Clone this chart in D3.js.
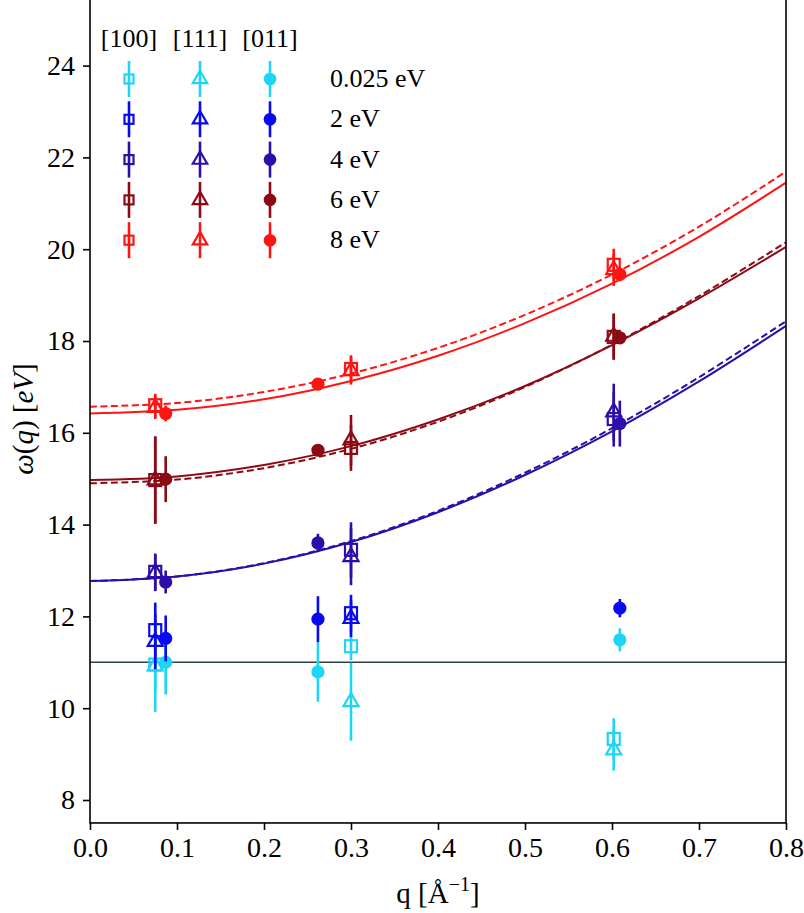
<!DOCTYPE html>
<html><head><meta charset="utf-8">
<script src="https://cdn.jsdelivr.net/npm/d3@7"></script>
<style>body{margin:0;background:#fff}svg{display:block}</style>
</head><body>
<script>
// ---- data ----
const energies = ["0.025 eV", "2 eV", "4 eV", "6 eV", "8 eV"];
const colors = ["#1fd5f5", "#0a0af0", "#2c0ea8", "#8c0a16", "#ff1414"];
const directions = ["[100]", "[111]", "[011]"];
const q100 = [0.075, 0.300, 0.602];
const q111 = [0.075, 0.300, 0.602];
const q011 = [0.087, 0.262, 0.609];
// omega per energy (rows) at each q
const w100 = [[10.95, 11.35, 9.33], [11.70, 12.07, null], [12.97, 13.45, 16.30], [14.97, 15.67, 18.09], [16.60, 17.39, 19.66]];
const e100 = [[0.60, 0.30, 0.45], [0.60, 0.40, null], [0.40, 0.60, 0.60], [0.95, 0.50, 0.50], [0.25, 0.30, 0.35]];
const w111 = [[10.92, 10.14, 9.09], [11.45, 11.95, null], [12.95, 13.30, 16.45], [14.97, 15.84, 18.10], [16.55, 17.35, 19.55]];
const e111 = [[1.00, 0.85, 0.45], [0.60, 0.40, null], [0.40, 0.62, 0.62], [0.95, 0.55, 0.50], [0.25, 0.30, 0.35]];
const w011 = [[11.00, 10.79, 11.49], [11.52, 11.94, 12.18], [12.75, 13.60, 16.20], [14.99, 15.62, 18.07], [16.42, 17.06, 19.45]];
const e011 = [[0.70, 0.65, 0.25], [0.50, 0.50, 0.20], [0.25, 0.20, 0.50], [0.50, 0.05, 0.10], [0.17, 0.05, 0.15]];
// fitted curves
const qCurve = [0, 0.1, 0.2, 0.3, 0.4, 0.5, 0.6, 0.7, 0.8];
const curves = [
  {color: 2, dash: false, w: [12.77, 12.87, 13.15, 13.62, 14.27, 15.08, 16.03, 17.12, 18.33]},
  {color: 2, dash: true,  w: [12.77, 12.87, 13.16, 13.64, 14.30, 15.13, 16.10, 17.21, 18.43]},
  {color: 3, dash: false, w: [14.97, 15.05, 15.30, 15.71, 16.29, 17.02, 17.91, 18.93, 20.05]},
  {color: 3, dash: true,  w: [14.90, 14.98, 15.23, 15.65, 16.24, 17.00, 17.92, 18.98, 20.15]},
  {color: 4, dash: false, w: [16.42, 16.50, 16.73, 17.13, 17.68, 18.39, 19.25, 20.27, 21.45]},
  {color: 4, dash: true,  w: [16.57, 16.65, 16.89, 17.29, 17.85, 18.57, 19.45, 20.49, 21.69]}
];
const hLine = 11.0;
const xTicks = [0.0, 0.1, 0.2, 0.3, 0.4, 0.5, 0.6, 0.7, 0.8];
const yTicks = [8, 10, 12, 14, 16, 18, 20, 22, 24];

// ---- layout ----
const W = 804, H = 913;
const FONT = "'Liberation Serif', 'DejaVu Serif', serif";
const svg = d3.select("body").append("svg").attr("width", W).attr("height", H);
const x = d3.scaleLinear().domain([0, 0.8]).range([90, 786]);
const y = d3.scaleLinear().domain([8, 24]).range([800, 65.6]);
const yTop = y(25.5), yBot = y(7.5);

// horizontal reference line
svg.append("line").attr("x1", x(0)).attr("x2", x(0.8)).attr("y1", y(hLine)).attr("y2", y(hLine))
  .attr("stroke", "#2f4040").attr("stroke-width", 1.6);

// curves
const line = d3.line().x((d, i) => x(qCurve[i])).y(d => y(d)).curve(d3.curveCatmullRom);
curves.forEach(c => {
  svg.append("path").attr("d", line(c.w)).attr("fill", "none")
    .attr("stroke", colors[c.color]).attr("stroke-width", 2)
    .attr("stroke-dasharray", c.dash ? "7,3.5" : null);
});

function marker(g, type, cx, cy, col, s) {
  if (type === 0) {
    g.append("rect").attr("x", cx - s / 2).attr("y", cy - s / 2).attr("width", s).attr("height", s)
      .attr("fill", "none").attr("stroke", col).attr("stroke-width", 2.2);
  } else if (type === 1) {
    const r = s * 0.72;
    const pts = [[cx, cy - r], [cx + r * 0.87, cy + r * 0.5], [cx - r * 0.87, cy + r * 0.5]];
    g.append("path").attr("d", "M" + pts.map(p => p.join(",")).join("L") + "Z")
      .attr("fill", "none").attr("stroke", col).attr("stroke-width", 2.2).attr("stroke-linejoin", "miter");
  } else {
    g.append("circle").attr("cx", cx).attr("cy", cy).attr("r", s * 0.55).attr("fill", col);
  }
}

const sets = [[q100, w100, e100], [q111, w111, e111], [q011, w011, e011]];
const plot = svg.append("g");
energies.forEach((en, ei) => {
  sets.forEach(([qs, ws, es], t) => {
    qs.forEach((q, j) => {
      const v = ws[ei][j];
      if (v == null) return;
      const e = es[ei][j];
      const cx = x(q), cy = y(v);
      plot.append("line").attr("x1", cx).attr("x2", cx).attr("y1", y(v - e)).attr("y2", y(v + e))
        .attr("stroke", colors[ei]).attr("stroke-width", 2.6);
      marker(plot, t, cx, cy, colors[ei], 12);
    });
  });
});

// legend
const legX = [129, 200, 270], legY0 = 79, legDY = 40.3;
directions.forEach((d, i) => {
  svg.append("text").attr("x", legX[i]).attr("y", 47).attr("text-anchor", "middle")
    .attr("font-family", FONT).attr("font-size", 26).text(d);
});
energies.forEach((en, ei) => {
  const cy = legY0 + ei * legDY;
  [0, 1, 2].forEach(t => {
    const cx = legX[t];
    svg.append("line").attr("x1", cx).attr("x2", cx).attr("y1", cy - 18).attr("y2", cy + 18)
      .attr("stroke", colors[ei]).attr("stroke-width", 2.6);
    marker(svg, t, cx, cy, colors[ei], t === 0 ? 9 : 11.5);
  });
  svg.append("text").attr("x", 330).attr("y", cy + 8).attr("font-family", FONT).attr("font-size", 26).text(en);
});

// frame
svg.append("rect").attr("x", x(0)).attr("y", yTop).attr("width", x(0.8) - x(0)).attr("height", yBot - yTop)
  .attr("fill", "none").attr("stroke", "#000").attr("stroke-width", 1.6);

// axes
const xa = svg.append("g").attr("transform", `translate(0,${yBot})`)
  .call(d3.axisBottom(x).tickValues(xTicks).tickFormat(d3.format(".1f")).tickSize(7).tickPadding(7));
const ya = svg.append("g").attr("transform", `translate(${x(0)},0)`)
  .call(d3.axisLeft(y).tickValues(yTicks).tickSize(7).tickPadding(8));
[xa, ya].forEach(a => {
  a.select(".domain").remove();
  a.selectAll("line").attr("stroke-width", 1.6);
  a.selectAll("text").attr("font-family", FONT).attr("font-size", 28).attr("fill", "#000");
});

// axis labels
const xl = svg.append("text").attr("x", x(0.4)).attr("y", 903).attr("text-anchor", "middle")
  .attr("font-family", FONT).attr("font-size", 29);
xl.append("tspan").text("q [Å");
xl.append("tspan").attr("dy", -12).attr("font-size", 20).text("−1");
xl.append("tspan").attr("dy", 12).text("]");

const yl = svg.append("text").attr("transform", `translate(33,${y(16.3)}) rotate(-90)`)
  .attr("text-anchor", "middle").attr("font-family", FONT).attr("font-size", 29);
yl.append("tspan").attr("font-style", "italic").text("ω");
yl.append("tspan").text("(");
yl.append("tspan").attr("font-style", "italic").text("q");
yl.append("tspan").text(") [");
yl.append("tspan").attr("font-style", "italic").text("eV");
yl.append("tspan").text("]");
</script>
</body></html>
